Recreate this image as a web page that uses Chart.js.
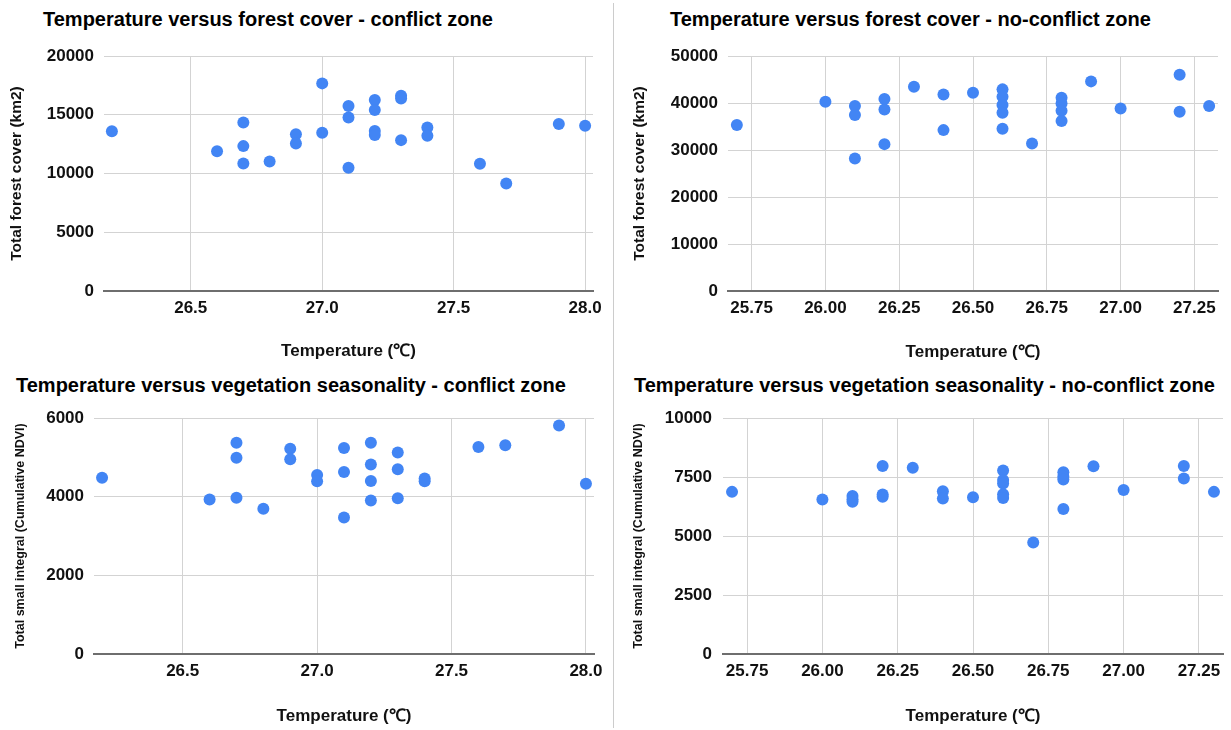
<!DOCTYPE html>
<html>
<head>
<meta charset="utf-8">
<script src="https://cdn.jsdelivr.net/npm/chart.js@4.4.0/dist/chart.umd.min.js"></script>
<style>
  body { margin: 0; background: #fff; width: 1231px; height: 730px; position: relative; overflow: hidden; }
  .title { position: absolute; font: bold 20px/20px Arial, "Liberation Sans", sans-serif; color: #000; white-space: nowrap; }
  canvas { position: absolute; }
  .sep { position: absolute; left: 613px; top: 3px; width: 1px; height: 725px; background: #ccc; }
</style>
</head>
<body>
<div class="title" style="left:43px;top:9px">Temperature versus forest cover - conflict zone</div>
<div class="title" style="left:670px;top:9px">Temperature versus forest cover - no-conflict zone</div>
<div class="title" style="left:16px;top:375px">Temperature versus vegetation seasonality - conflict zone</div>
<div class="title" style="left:634px;top:375px">Temperature versus vegetation seasonality - no-conflict zone</div>
<div class="sep"></div>

<canvas id="forestConflict" width="613" height="365" style="left:0;top:0"></canvas>
<canvas id="forestNoConflict" width="617" height="365" style="left:614px;top:0"></canvas>
<canvas id="ndviConflict" width="613" height="365" style="left:0;top:365px"></canvas>
<canvas id="ndviNoConflict" width="617" height="365" style="left:614px;top:365px"></canvas>

<script>
// conflict zone
const conflictTemp = [26.2, 26.6, 26.7, 26.7, 26.7, 26.8, 26.9, 26.9, 27.0, 27.0, 27.1, 27.1, 27.1,
                      27.2, 27.2, 27.2, 27.2, 27.3, 27.3, 27.3, 27.4, 27.4, 27.6, 27.7, 27.9, 28.0];
const conflictForest = [13600, 11900, 14350, 12330, 10850, 11020, 13350, 12560, 17670, 13470, 15740, 14770, 10480,
                        16250, 15400, 13610, 13270, 16620, 16390, 12840, 13920, 13210, 10820, 9150, 14210, 14060];
const conflictNdvi = [4480, 3930, 5370, 4990, 3970, 3690, 5220, 4950, 4550, 4390, 5240, 4630, 3470,
                      5370, 4820, 4400, 3900, 5120, 4700, 3960, 4460, 4390, 5260, 5310, 5810, 4330];

// no-conflict zone
const noConflictTemp = [25.7, 26.0, 26.1, 26.1, 26.1, 26.2, 26.2, 26.2, 26.3, 26.4, 26.4, 26.5, 26.6, 26.6,
                        26.6, 26.6, 26.6, 26.7, 26.8, 26.8, 26.8, 26.8, 26.9, 27.0, 27.2, 27.2, 27.3];
const noConflictForest = [35300, 40270, 39350, 37430, 28200, 40840, 38640, 31250, 43470, 41830, 34230, 42190, 42900, 41340,
                          39560, 37930, 34520, 31390, 41120, 39920, 38350, 36150, 44600, 38850, 46020, 38140, 39350];
const noConflictNdvi = [6870, 6550, 6690, 6560, 6450, 7970, 6760, 6660, 7890, 6900, 6590, 6640, 7780, 7370,
                        7220, 6770, 6610, 4720, 7700, 7520, 7390, 6140, 7960, 6950, 7970, 7440, 6870];

// tick labels
const conflictXTicks = [26.5, 27.0, 27.5, 28.0];
const noConflictXTicks = [25.75, 26.00, 26.25, 26.50, 26.75, 27.00, 27.25];
const forestConflictYTicks = [0, 5000, 10000, 15000, 20000];
const forestNoConflictYTicks = [0, 10000, 20000, 30000, 40000, 50000];
const ndviConflictYTicks = [0, 2000, 4000, 6000];
const ndviNoConflictYTicks = [0, 2500, 5000, 7500, 10000];

const xTitle = "Temperature (\u2103)";
const forestTitle = "Total forest cover (km2)";
const ndviTitle = "Total small integral (Cumulative NDVI)";

const FONT = 'Arial, "Liberation Sans", sans-serif';
Chart.defaults.font.family = FONT;
Chart.defaults.color = "#111";

function makeScatter(canvasId, xs, ys, cfg) {
    const ctx = document.getElementById(canvasId);
    const points = xs.map(function (x, i) { return { x: x, y: ys[i] }; });

    return new Chart(ctx, {
        type: "scatter",
        data: {
            datasets: [{
                data: points,
                backgroundColor: "#4285F4",
                borderWidth: 0,
                pointRadius: 6,
                pointHoverRadius: 6
            }]
        },
        options: {
            responsive: false,
            animation: false,
            events: [],
            layout: { padding: { top: cfg.top, right: cfg.right, bottom: 0, left: 0 } },
            plugins: { legend: { display: false }, tooltip: { enabled: false } },
            scales: {
                x: {
                    type: "linear",
                    min: cfg.xMin,
                    max: cfg.xMax,
                    bounds: "data",
                    afterBuildTicks: function (scale) {
                        scale.ticks = cfg.xTicks.map(function (v) { return { value: v }; });
                    },
                    afterFit: function (scale) { scale.height = cfg.xHeight; },
                    grid: { color: "#d3d3d3", drawTicks: false },
                    border: { color: "#6e6e6e", width: 2 },
                    ticks: {
                        padding: 7,
                        maxRotation: 0,
                        autoSkip: false,
                        font: { size: 17, weight: "bold" },
                        callback: function (v) { return v.toFixed(cfg.decimals); }
                    },
                    title: {
                        display: true,
                        text: xTitle,
                        color: "#111",
                        font: { size: 17, weight: "bold" },
                        padding: { top: 0, bottom: cfg.xTitlePad }
                    }
                },
                y: {
                    min: 0,
                    max: cfg.yTicks[cfg.yTicks.length - 1],
                    afterBuildTicks: function (scale) {
                        scale.ticks = cfg.yTicks.map(function (v) { return { value: v }; });
                    },
                    afterFit: function (scale) { scale.width = cfg.yWidth; },
                    grid: { color: "#d3d3d3", drawTicks: false },
                    border: { display: false },
                    ticks: {
                        padding: cfg.yTickPad,
                        font: { size: 17, weight: "bold" },
                        callback: function (v) { return String(v); }
                    },
                    title: {
                        display: true,
                        text: cfg.yTitle,
                        color: "#111",
                        font: { size: cfg.yTitleSize, weight: "bold" },
                        padding: { top: cfg.yTitlePad, bottom: 0 }
                    }
                }
            }
        }
    });
}

makeScatter("forestConflict", conflictTemp, conflictForest, {
    top: 56, right: 20, yWidth: 104, xHeight: 74,
    xMin: 26.17, xMax: 28.03, xTicks: conflictXTicks, decimals: 1,
    yTicks: forestConflictYTicks, yTickPad: 10,
    yTitle: forestTitle, yTitleSize: 15.5, yTitlePad: 7, xTitlePad: 3
});

makeScatter("forestNoConflict", noConflictTemp, noConflictForest, {
    top: 56, right: 13, yWidth: 114, xHeight: 74,
    xMin: 25.67, xMax: 27.33, xTicks: noConflictXTicks, decimals: 2,
    yTicks: forestNoConflictYTicks, yTickPad: 10,
    yTitle: forestTitle, yTitleSize: 15.5, yTitlePad: 16, xTitlePad: 2
});

makeScatter("ndviConflict", conflictTemp, conflictNdvi, {
    top: 53, right: 19, yWidth: 94, xHeight: 76,
    xMin: 26.17, xMax: 28.03, xTicks: conflictXTicks, decimals: 1,
    yTicks: ndviConflictYTicks, yTickPad: 10,
    yTitle: ndviTitle, yTitleSize: 12.5, yTitlePad: 13, xTitlePad: 3
});

makeScatter("ndviNoConflict", noConflictTemp, noConflictNdvi, {
    top: 53, right: 8, yWidth: 109, xHeight: 76,
    xMin: 25.67, xMax: 27.33, xTicks: noConflictXTicks, decimals: 2,
    yTicks: ndviNoConflictYTicks, yTickPad: 11,
    yTitle: ndviTitle, yTitleSize: 12.5, yTitlePad: 17, xTitlePad: 3
});
</script>
</body>
</html>
